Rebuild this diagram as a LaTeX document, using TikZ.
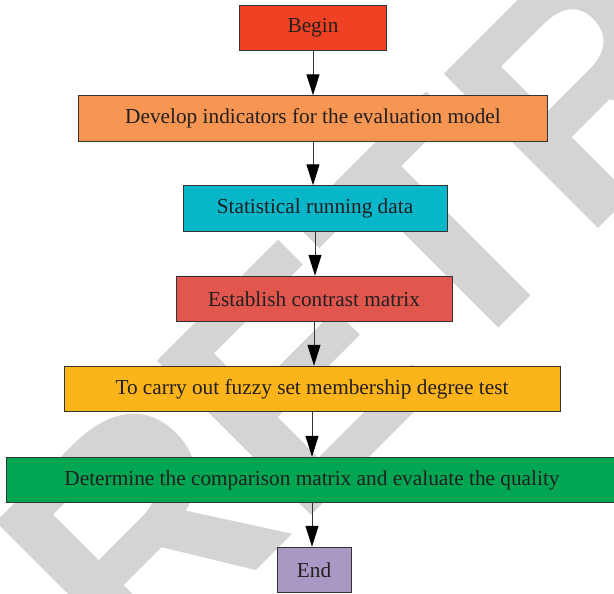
\documentclass[tikz,border=0pt]{standalone}
\usepackage{fontspec}
\setmainfont{Liberation Serif}
\newfontfamily\marksans{Liberation Sans}
\usetikzlibrary{arrows.meta, positioning}

\definecolor{beginred}{HTML}{EF4123}
\definecolor{developorange}{HTML}{F69652}
\definecolor{statcyan}{HTML}{08B6CA}
\definecolor{contrastred}{HTML}{E1574E}
\definecolor{fuzzyyellow}{HTML}{FBB41A}
\definecolor{qualitygreen}{HTML}{00A651}
\definecolor{endviolet}{HTML}{A898C4}
\definecolor{markgrey}{HTML}{D4D4D4}
\definecolor{boxline}{HTML}{333333}
\definecolor{textdark}{HTML}{231F20}

\tikzset{
  stepbox/.style={draw=boxline, line width=1pt, minimum height=45.5pt, inner sep=0pt,
    font=\fontsize{21.3}{24}\selectfont, text=textdark},
  flowline/.style={draw=boxline, line width=1pt, -{Triangle[length=21pt,width=13pt,color=black]}},
}

\begin{document}
\begin{tikzpicture}[x=1pt, y=1pt]
    \useasboundingbox (0,0) rectangle (614,-594);
    % watermark
    \node[font=\marksans\bfseries\fontsize{317}{317}\selectfont, text=markgrey, rotate=45,
      anchor=base west, inner sep=0pt] (mark) at (135,-692) {RETRACTED};
    % steps
    \node[stepbox, fill=beginred, minimum width=147pt] (begin) at (313,-28) {Begin};
    \node[stepbox, fill=developorange, minimum width=469pt] (develop) at (313,-118.6) {Develop indicators for the evaluation model};
    \node[stepbox, fill=statcyan, minimum width=264pt] (stat) at (315,-208.5) {Statistical running data};
    \node[stepbox, fill=contrastred, minimum width=276pt] (contrast) at (314,-299) {Establish contrast matrix};
    \node[stepbox, fill=fuzzyyellow, minimum width=496pt] (fuzzy) at (312,-389) {To carry out fuzzy set membership degree test};
    \node[stepbox, fill=qualitygreen, minimum width=612pt] (quality) at (312,-480) {Determine the comparison matrix and evaluate the quality};
    \node[stepbox, fill=endviolet, minimum width=74pt] (end) at (314,-570) {End};
    % arrows
    \draw[flowline] (begin.south) -- (begin.south |- develop.north);
    \draw[flowline] (develop.south) -- (develop.south |- stat.north);
    \draw[flowline] (stat.south) -- (stat.south |- contrast.north);
    \draw[flowline] (contrast.south) -- (contrast.south |- fuzzy.north);
    \draw[flowline] (fuzzy.south) -- (fuzzy.south |- quality.north);
    \draw[flowline] (quality.south) -- (quality.south |- end.north);
\end{tikzpicture}
\end{document}
